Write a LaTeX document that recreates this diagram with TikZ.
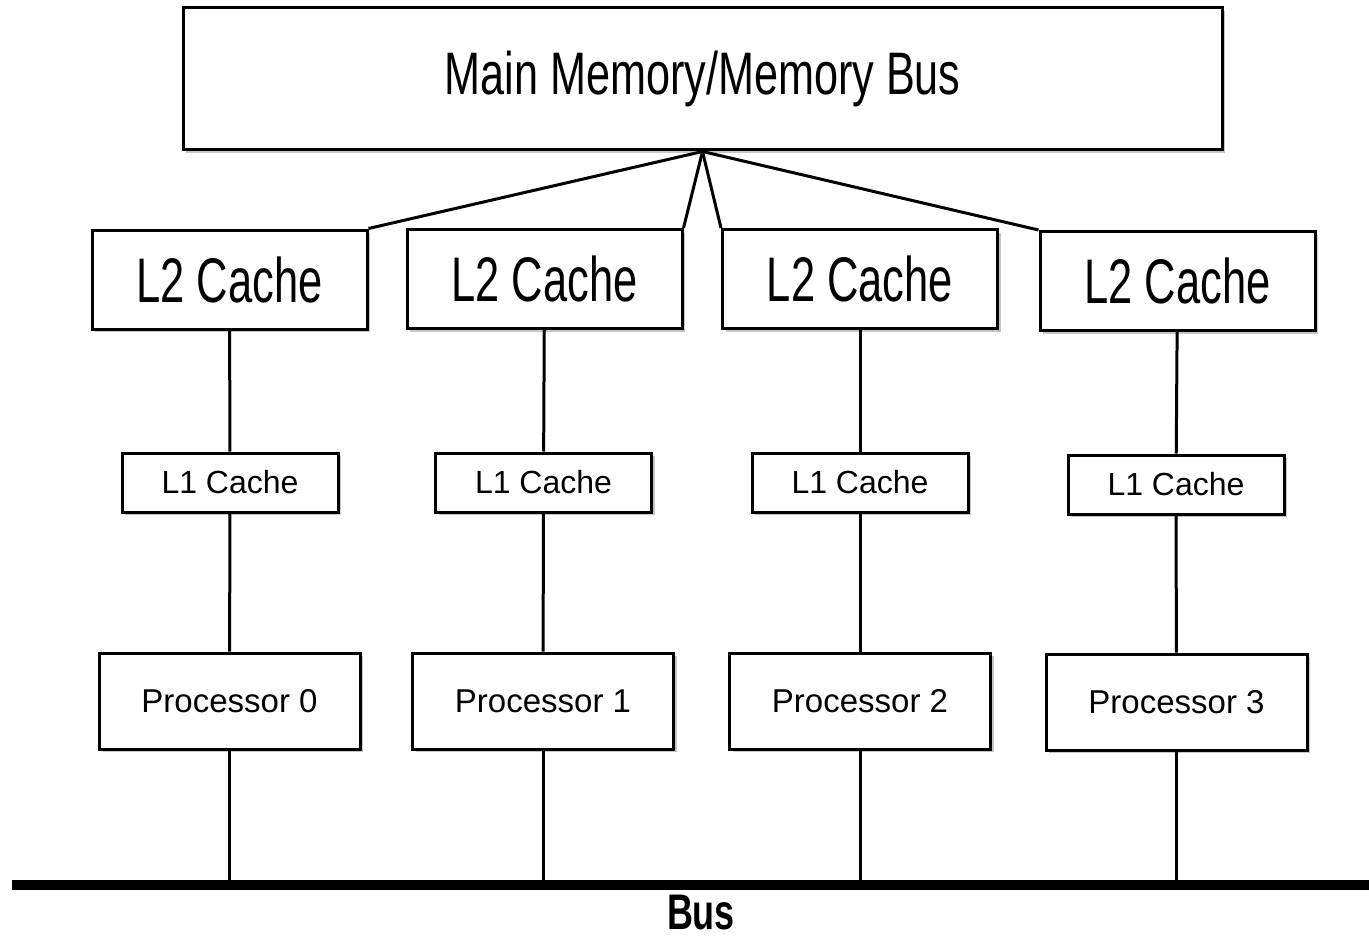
\documentclass[tikz,border=0pt]{standalone}
\usepackage{fontspec}
\setmainfont{Liberation Sans}
\usepackage{graphicx}
\usetikzlibrary{positioning,shadows}

\begin{document}
\begin{tikzpicture}[x=1pt,y=-1pt,
    cachebox/.style={draw, line width=3pt, fill=white, inner sep=0pt,
      drop shadow={shadow xshift=3pt, shadow yshift=-3pt, fill=gray!45, opacity=1}},
    ltwo/.style={cachebox, minimum width=275pt, minimum height=99pt},
    lone/.style={cachebox, minimum width=216pt, minimum height=59pt},
    proc/.style={cachebox, minimum width=261pt, minimum height=96pt},
    wire/.style={line width=3pt}]
      \useasboundingbox (0,0) rectangle (1369,939);

      \node[cachebox, minimum width=1039pt, minimum height=142pt] (mem) at (702.5,79)
        {\fontsize{60}{70}\selectfont\scalebox{0.72}[1]{Main Memory/Memory Bus}};

      \node[ltwo] (ltwoA) at (229.5,279.5) {\fontsize{63}{70}\selectfont\scalebox{0.69}[1]{L2 Cache}};
      \node[ltwo] (ltwoB) at (544.5,279) {\fontsize{63}{70}\selectfont\scalebox{0.69}[1]{L2 Cache}};
      \node[ltwo] (ltwoC) at (860,279) {\fontsize{63}{70}\selectfont\scalebox{0.69}[1]{L2 Cache}};
      \node[ltwo] (ltwoD) at (1177.5,281) {\fontsize{63}{70}\selectfont\scalebox{0.69}[1]{L2 Cache}};

      \node[lone] (loneA) at (230,482.5) {\fontsize{32}{38}\selectfont L1 Cache};
      \node[lone] (loneB) at (543.5,482.5) {\fontsize{32}{38}\selectfont L1 Cache};
      \node[lone] (loneC) at (860,482.5) {\fontsize{32}{38}\selectfont L1 Cache};
      \node[lone] (loneD) at (1176,484.5) {\fontsize{32}{38}\selectfont L1 Cache};

      \node[proc] (procA) at (229.5,701) {\fontsize{33}{38}\selectfont Processor 0};
      \node[proc] (procB) at (543,701) {\fontsize{33}{38}\selectfont Processor 1};
      \node[proc] (procC) at (860,701) {\fontsize{33}{38}\selectfont Processor 2};
      \node[proc] (procD) at (1176.5,702) {\fontsize{33}{38}\selectfont Processor 3};

      % memory bus fan-out
      \draw[wire] (mem.south) -- (ltwoA.north east);
      \draw[wire] (mem.south) -- (ltwoB.north east);
      \draw[wire] (mem.south) -- (ltwoC.north west);
      \draw[wire] (mem.south) -- (ltwoD.north west);

      \draw[wire] (ltwoA) -- (loneA);
      \draw[wire] (ltwoB) -- (loneB);
      \draw[wire] (ltwoC) -- (loneC);
      \draw[wire] (ltwoD) -- (loneD);

      \draw[wire] (loneA) -- (procA);
      \draw[wire] (loneB) -- (procB);
      \draw[wire] (loneC) -- (procC);
      \draw[wire] (loneD) -- (procD);

      % shared bus
      \coordinate (busL) at (12,885);
      \coordinate (busR) at (1369,885);
      \draw[wire] (procA.south) -- (procA.south |- busL);
      \draw[wire] (procB.south) -- (procB.south |- busL);
      \draw[wire] (procC.south) -- (procC.south |- busL);
      \draw[wire] (procD.south) -- (procD.south |- busL);
      \draw[line width=10pt] (busL) -- (busR);
      \node[inner sep=0pt] (bus) at (701,912.5) {\fontsize{50}{56}\selectfont\scalebox{0.72}[1]{\bfseries Bus}};
    \end{tikzpicture}
\end{document}
